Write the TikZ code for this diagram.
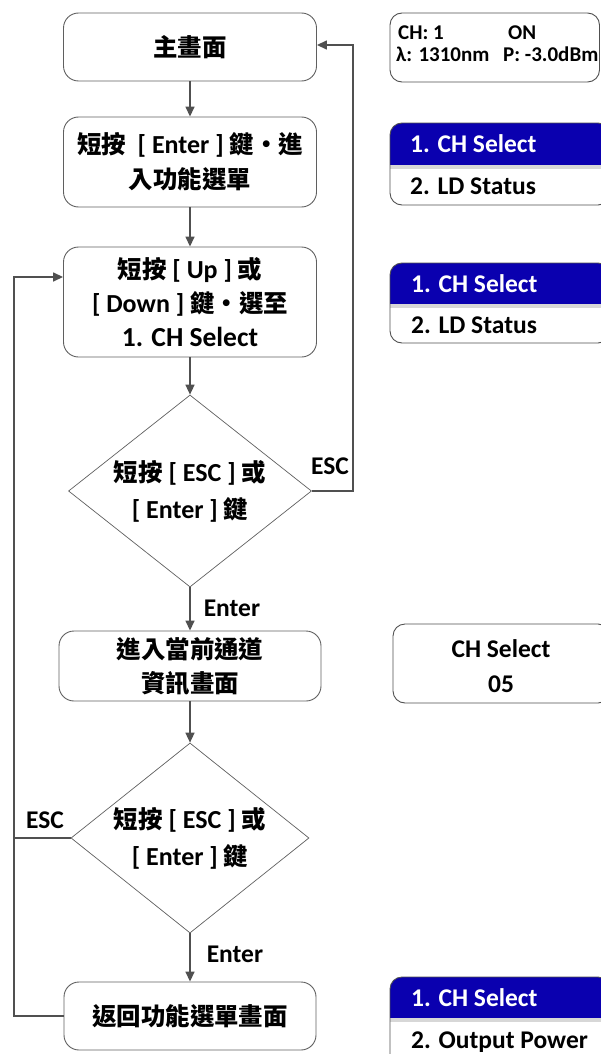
\documentclass[tikz,border=0pt]{standalone}
\usepackage{fontspec}
\setmainfont{Carlito}
\newfontfamily\cjk{Noto Sans CJK TC}[Scale=0.94]
\usetikzlibrary{shapes.geometric,arrows.meta}
\definecolor{ln}{RGB}{80,80,80}
\definecolor{bx}{RGB}{95,95,95}
\definecolor{hdr}{RGB}{10,0,175}
\definecolor{strip}{RGB}{215,215,215}
\tikzset{
  box/.style={draw=bx, line width=0.9pt, rounded corners=15pt, align=center, inner sep=0pt,
    font=\fontsize{26}{35}\selectfont\bfseries},
  dia/.style={draw=bx, line width=0.7pt, diamond, inner sep=0pt, minimum width=243pt, minimum height=192pt},
  diatext/.style={align=center, inner sep=0pt, font=\fontsize{26}{37}\selectfont\bfseries},
  arr/.style={draw=ln, line width=1.5pt, -{Triangle[length=10pt,width=9pt]}},
  con/.style={draw=ln, line width=1.5pt},
  lbl/.style={inner sep=0pt, font=\fontsize{25.5}{30}\selectfont\bfseries},
  panel/.style={draw=ln, line width=0.9pt, rounded corners=12pt},
  ptext/.style={anchor=base west, inner sep=0pt, font=\fontsize{25.5}{30}\selectfont\bfseries},
  psmall/.style={anchor=base west, inner sep=0pt, font=\fontsize{21}{26}\selectfont\bfseries}
}
\begin{document}
\begin{tikzpicture}[x=1pt,y=-1pt]
\useasboundingbox (0,0) rectangle (601,1054);
% flowchart boxes
\node[box, minimum width=253pt, minimum height=68pt] (b1) at (190,47) {{\cjk 主畫面}};
\node[box, minimum width=253pt, minimum height=90pt] (b2) at (190,162) {{\cjk 短按}\ \ [ Enter ] {\cjk 鍵・進}\\{\cjk 入功能選單}};
\node[box, minimum width=253pt, minimum height=110pt, font=\fontsize{26}{34}\selectfont\bfseries] (b3) at (190,302) {{\cjk 短按} [ Up ] {\cjk 或}\\{}[ Down ] {\cjk 鍵・選至}\\{\fontsize{27.5}{34}\selectfont 1. CH Select}};
\node[dia] (d1) at (190,491) {};
\node[diatext] (d1t) at (190,491) {{\cjk 短按} [ ESC ] {\cjk 或}\\{}[ Enter ] {\cjk 鍵}};
\node[box, minimum width=262pt, minimum height=70pt, font=\fontsize{26}{34}\selectfont\bfseries] (b4) at (190,666) {{\cjk 進入當前通道}\\{\cjk 資訊畫面}};
\node[dia, minimum width=238pt, minimum height=190pt] (d2) at (190,838) {};
\node[diatext] (d2t) at (190,838) {{\cjk 短按} [ ESC ] {\cjk 或}\\{}[ Enter ] {\cjk 鍵}};
\node[box, minimum width=252pt, minimum height=68pt] (b5) at (190,1016) {{\cjk 返回功能選單畫面}};
% connectors
\draw[arr] (b1) -- (b2);
\draw[arr] (b2) -- (b3);
\draw[arr] (b3) -- (d1);
\draw[arr] (d1) -- node[lbl, anchor=west, xshift=13pt, yshift=1pt] (e1) {Enter} (b4);
\draw[arr] (b4) -- (d2);
\draw[arr] (d2) -- node[lbl, anchor=west, xshift=16pt, yshift=3pt] (e2) {Enter} (b5);
\coordinate (c1) at (353,45);
\draw[arr] (d1.east) -| (c1) -- (c1 -| b1.east);
\node[lbl] (esc1) at (330,466) {ESC};
\coordinate (c2) at (14,277);
\draw[arr] (b5.west) -| (c2) -- (c2 -| b3.west);
\draw[con] (d2.west) -- (d2.west -| c2);
\node[lbl] (esc2) at (45,820) {ESC};
% panel 1
\draw[panel] (390,13) rectangle (599.5,82);
\node[psmall] (p1a) at (398,40) {CH: 1};
\node[psmall] (p1b) at (508,40) {ON};
\node[psmall] (p1c) at (396,62) {λ: 1310nm};
\node[psmall] (p1d) at (503,62) {P: -3.0dBm};
% panel 2
\begin{scope}
\clip[rounded corners=12pt] (390,123) rectangle (610,205);
\fill[hdr] (390,123) rectangle (610,165);
\fill[strip] (390,165) rectangle (610,169);
\end{scope}
\draw[panel] (390,123) rectangle (610,205);
\node[ptext, text=white] (p2a) at (410,153) {1. CH Select};
\node[ptext] (p2b) at (410,194) {2. LD Status};
% panel 3
\begin{scope}
\clip[rounded corners=12pt] (390,263) rectangle (610,343);
\fill[hdr] (390,263) rectangle (610,304);
\fill[strip] (390,304) rectangle (610,308);
\end{scope}
\draw[panel] (390,263) rectangle (610,343);
\node[ptext, text=white] (p3a) at (411,292) {1. CH Select};
\node[ptext] (p3b) at (411,333) {2. LD Status};
% panel 4
\draw[panel] (393,624) rectangle (610,703);
\node[align=center, inner sep=0pt, font=\fontsize{25.5}{35}\selectfont\bfseries] (p4) at (501,666) {CH Select\\05};
% panel 5
\begin{scope}
\clip[rounded corners=12pt] (390,977) rectangle (610,1075);
\fill[hdr] (390,977) rectangle (610,1018);
\fill[strip] (390,1018) rectangle (610,1022);
\end{scope}
\draw[panel] (390,977) rectangle (610,1075);
\node[ptext, text=white] (p5a) at (411,1006) {1. CH Select};
\node[ptext] (p5b) at (411,1048) {2. Output Power};
\end{tikzpicture}
\end{document}
